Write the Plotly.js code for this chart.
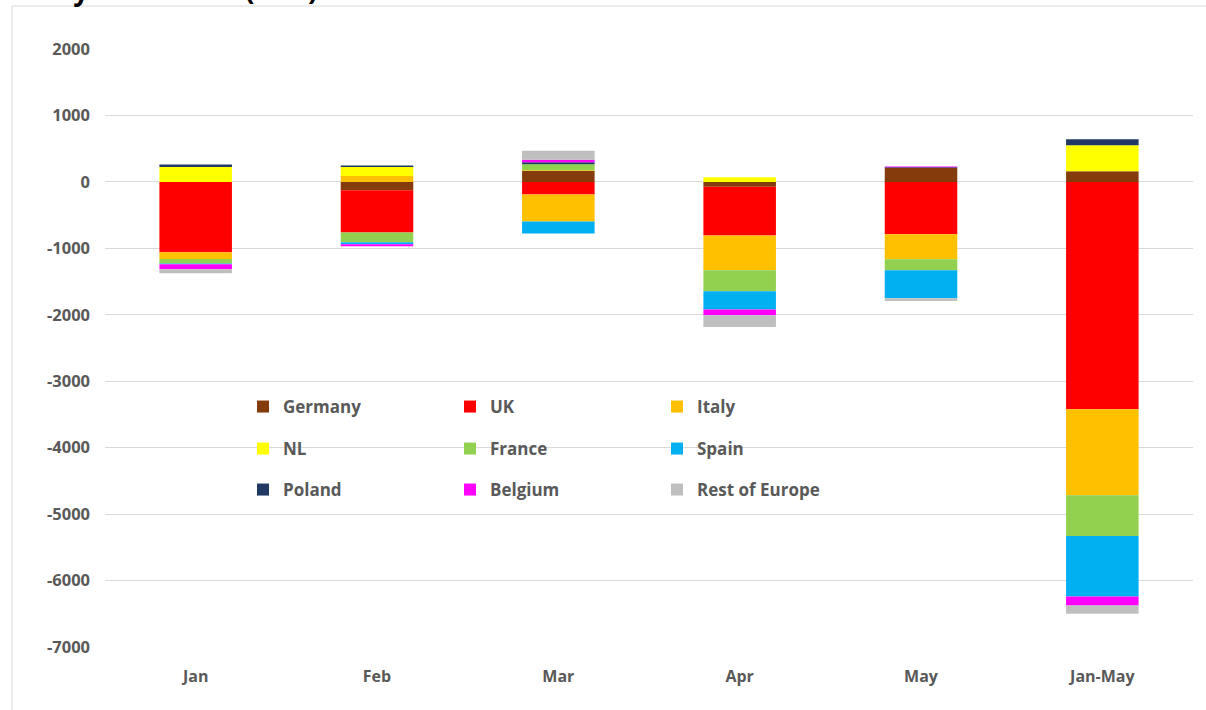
<!DOCTYPE html>
<html>
<head>
<meta charset="utf-8">
<script src="https://cdn.plot.ly/plotly-3.0.1.min.js"></script>
<style>html,body{margin:0;padding:0;background:#fff;}#chart{width:1206px;height:710px;}</style>
</head>
<body>
<div id="chart"></div>
<script>
// ---- Data (MW) ----
const categories = ['Jan', 'Feb', 'Mar', 'Apr', 'May', 'Jan-May'];
const germany = [0, -125, 170, -75, 210, 160];
const uk      = [-1060, -637, -190, -733, -788, -3423];
const italy   = [-100, 90, -405, -522, -376, -1295];
const nl      = [225, 135, 10, 70, 0, 390];
const france  = [-70, -145, 85, -316, -166, -613];
const spain   = [-10, -30, -180, -276, -422, -908];
const poland  = [35, 20, 30, 0, 10, 90];
const belgium = [-75, -30, 40, -85, 10, -136];
const restOfEurope = [-60, 0, 135, -176, -40, -125];

// y-axis tick values and labels (hyphen minus, as in the reference)
const yTickVals = [2000, 1000, 0, -1000, -2000, -3000, -4000, -5000, -6000, -7000];
const yTickText = ['2000', '1000', '0', '-1000', '-2000', '-3000', '-4000', '-5000', '-6000', '-7000'];

const seriesNames = ['Germany', 'UK', 'Italy', 'NL', 'France', 'Spain', 'Poland', 'Belgium', 'Rest of Europe'];
const seriesValues = [germany, uk, italy, nl, france, spain, poland, belgium, restOfEurope];
const seriesColors = ['#843C0C', '#FF0000', '#FFC000', '#FFFF00', '#92D050', '#00B0F0', '#1F3864', '#FF00FF', '#BFBFBF'];
const legendIds = ['legend', 'legend', 'legend', 'legend2', 'legend2', 'legend2', 'legend3', 'legend3', 'legend3'];

const FONT = 'Open Sans, Liberation Sans, sans-serif';
const TXT = '#595959';

const traces = seriesNames.map((name, i) => ({
  type: 'bar',
  name: name,
  x: categories,
  y: seriesValues[i],
  marker: {color: seriesColors[i], line: {width: 0}},
  legend: legendIds[i],
  hoverinfo: 'skip'
}));

const W = 1206, H = 710;
const M = {l: 105, r: 13, t: 49, b: 63};
const pw = W - M.l - M.r, ph = H - M.t - M.b;
const px = v => (v - M.l) / pw;
const py = v => (H - M.b - v) / ph;

const legendBase = {
  orientation: 'h',
  xanchor: 'left', yanchor: 'middle',
  x: px(243),
  bgcolor: 'rgba(0,0,0,0)',
  entrywidth: 162, entrywidthmode: 'pixels',
  font: {family: FONT, size: 17, color: TXT, weight: 'bold'},
  itemclick: false, itemdoubleclick: false,
  traceorder: 'normal'
};

const layout = {
  width: W, height: H,
  margin: M,
  paper_bgcolor: '#fff', plot_bgcolor: '#fff',
  barmode: 'relative',
  bargap: 0.6,
  showlegend: true,
  font: {family: FONT, color: TXT},
  xaxis: {
    type: 'category',
    showgrid: false, showline: false, zeroline: false,
    ticks: '',
    ticklabelstandoff: 18,
    tickfont: {family: FONT, size: 16, color: TXT, weight: 'bold'},
    fixedrange: true
  },
  yaxis: {
    range: [-7000, 2000],
    tickmode: 'array',
    tickvals: yTickVals,
    ticktext: yTickText,
    showgrid: true, gridcolor: '#D9D9D9', gridwidth: 1,
    zeroline: true, zerolinecolor: '#D9D9D9', zerolinewidth: 1,
    showline: false, ticks: '',
    ticklabelstandoff: 14,
    tickfont: {family: FONT, size: 16.5, color: TXT, weight: 'bold'},
    fixedrange: true
  },
  legend:  Object.assign({}, legendBase, {y: py(407)}),
  legend2: Object.assign({}, legendBase, {y: py(449)}),
  legend3: Object.assign({}, legendBase, {y: py(490)}),
  shapes: [{
    type: 'rect', xref: 'paper', yref: 'paper',
    x0: px(12), x1: px(1215), y0: py(720), y1: py(6),
    line: {color: '#D9D9D9', width: 1}, fillcolor: 'rgba(0,0,0,0)', layer: 'below'
  }],
  annotations: [{
    text: 'Monthly variations (MW)',
    xref: 'paper', yref: 'paper',
    x: px(320), y: py(10),
    xanchor: 'right', yanchor: 'bottom',
    showarrow: false,
    font: {family: FONT, size: 28, color: '#000', weight: 'bold'}
  }]
};

Plotly.newPlot('chart', traces, layout, {displayModeBar: false, staticPlot: true});
</script>
</body>
</html>
